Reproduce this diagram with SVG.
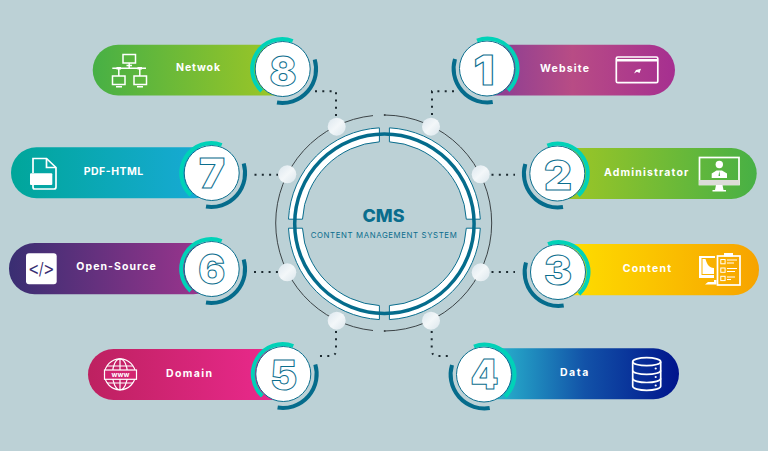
<svg xmlns="http://www.w3.org/2000/svg" width="768" height="451" viewBox="0 0 768 451">
<style>
.lbl{font-family:"Inter","Liberation Sans",sans-serif;font-weight:700;font-size:10.5px;fill:#fff;text-anchor:start}
.dig{font-family:"Inter","Liberation Sans",sans-serif;font-weight:900;font-size:41px;fill:#fff;stroke:#0b6e8e;stroke-width:1;text-anchor:middle}
.ic{fill:none;stroke:#fff;stroke-width:1.7}
.icf{fill:#fff;stroke:none}
.dots{fill:none;stroke:#1c2a30;stroke-width:2;stroke-dasharray:2 5.3}
</style>
<defs>
<linearGradient id="g1"><stop offset="0" stop-color="#7d3a98"/><stop offset=".5" stop-color="#b84c85"/><stop offset="1" stop-color="#a62f90"/></linearGradient>
<linearGradient id="g2"><stop offset="0" stop-color="#a8c922"/><stop offset="1" stop-color="#47b045"/></linearGradient>
<linearGradient id="g3"><stop offset="0" stop-color="#ffe600"/><stop offset="1" stop-color="#f7a300"/></linearGradient>
<linearGradient id="g4"><stop offset="0" stop-color="#2fd0d8"/><stop offset=".55" stop-color="#1252a8"/><stop offset="1" stop-color="#00148c"/></linearGradient>
<linearGradient id="g5"><stop offset="0" stop-color="#bd2160"/><stop offset="1" stop-color="#f02a92"/></linearGradient>
<linearGradient id="g6"><stop offset="0" stop-color="#392e72"/><stop offset="1" stop-color="#a3358f"/></linearGradient>
<linearGradient id="g7"><stop offset="0" stop-color="#00a69a"/><stop offset="1" stop-color="#1aaadb"/></linearGradient>
<linearGradient id="g8"><stop offset="0" stop-color="#47b045"/><stop offset="1" stop-color="#a8c922"/></linearGradient>
<linearGradient id="ball" x1="0" y1="0" x2="1" y2="1"><stop offset="0" stop-color="#dce7ee"/><stop offset=".5" stop-color="#f3f7f9"/><stop offset="1" stop-color="#dbe6ec"/></linearGradient>
<g id="bubble">
<circle cx="-1" cy="0" r="27.500" fill="#fff" stroke="#0b6e8e" stroke-width="1"/>
<path d="M-11 -28 A30 30 0 0 1 20 22" fill="none" stroke="#00d2b8" stroke-width="4"/>
<path d="M-33 -9.500 A33.800 33.800 0 0 0 4.700 33.500" fill="none" stroke="#056c8c" stroke-width="4"/>
</g>
<path id="quad" d="M5 -95.870A96 96 0 0 1 95.900 -4.500H81.900A82 82 0 0 0 5 -81.850Z" fill="#fff" stroke="#0b6e8e" stroke-width="1"/>
<circle id="dot" r="9" fill="url(#ball)"/>
</defs>
<rect width="768" height="451" fill="#bcd1d6"/>
<g id="connectors">
<path class="dots" d="M454 91.300H432V117"/>
<path class="dots" d="M491.500 174.700H515"/>
<path class="dots" d="M491.500 272H515"/>
<path class="dots" d="M431.700 331V350Q431.700 356 438 356H453"/>
<path class="dots" d="M315 91.300H336V117"/>
<path class="dots" d="M254.500 174.700H278"/>
<path class="dots" d="M254 272H278"/>
<path class="dots" d="M336 331V350Q336 356 330 356H316"/>
</g>
<g id="hub">
<path d="M373 115.600A108 108 0 0 0 275.700 223A108 108 0 0 0 373 330.500M384.700 115A108 108 0 0 1 491.700 223A108 108 0 0 1 384.700 331" fill="none" stroke="#3c4447" stroke-width="1"/>
<circle cx="384.700" cy="115" r="1" fill="#3c4447"/><circle cx="384.700" cy="331" r="1" fill="#3c4447"/>
<g transform="translate(384.400 223.700)">
<use href="#quad"/>
<use href="#quad" transform="scale(-1 1)"/>
<use href="#quad" transform="scale(1 -1)"/>
<use href="#quad" transform="scale(-1 -1)"/>
<circle r="89.700" fill="none" stroke="#056c8c" stroke-width="3.500"/>
</g>
<use href="#dot" x="336.700" y="126.700"/><use href="#dot" x="431" y="126.700"/>
<use href="#dot" x="287.300" y="174.300"/><use href="#dot" x="480.700" y="174.300"/>
<use href="#dot" x="287.300" y="272.300"/><use href="#dot" x="480.700" y="272.300"/>
<use href="#dot" x="336.700" y="320.700"/><use href="#dot" x="431" y="320.700"/>
<text x="383.500" y="222" font-family="Inter,'Liberation Sans',sans-serif" font-weight="800" font-size="17.500" fill="#0a6d8d" text-anchor="middle" textLength="42" lengthAdjust="spacingAndGlyphs">CMS</text>
<text x="310.700" y="238.300" font-family="Inter,'Liberation Sans',sans-serif" font-weight="400" font-size="7.800" fill="#0a6d8d" textLength="146">CONTENT MANAGEMENT SYSTEM</text>
</g>
<g id="node-1">
<rect x="470" y="44.700" width="205" height="50.800" rx="25.400" fill="url(#g1)"/>
<use href="#bubble" x="488" y="68.500"/>
<text class="dig" x="484" y="85" textLength="21" lengthAdjust="spacingAndGlyphs">1</text>
<text class="lbl" x="540" y="71.700" textLength="49">Website</text>
<rect class="ic" x="616.300" y="57" width="41.500" height="25.700" rx="1.500"/>
<path d="M616.300 60.300H657.800" stroke="#fff" stroke-width="2.500" fill="none"/>
<path class="icf" d="M634 73.500L636 70L641 68.800L639.500 73L637 71.800Z"/>
</g>
<g id="node-2">
<rect x="540" y="148" width="216.700" height="51" rx="25.500" fill="url(#g2)"/>
<use href="#bubble" x="558.300" y="173.500"/>
<text class="dig" x="558" y="190" textLength="28" lengthAdjust="spacingAndGlyphs">2</text>
<text class="lbl" x="604" y="175.700" textLength="84.300">Administrator</text>
<rect class="ic" x="699.500" y="157.500" width="39.500" height="27"/>
<rect x="699" y="180" width="40.500" height="5" fill="#dcdcd8"/>
<path d="M716 185H722.500L723.500 190H726V191.500H712.500V190H715Z" fill="#fff"/>
<circle class="icf" cx="719.300" cy="164.500" r="3.700"/>
<path class="icf" d="M711.700 178V173.500L716.500 170.500H722L727 173.500V178Z"/>
<path d="M719.300 171L718.500 176H720.100Z" fill="#4ab045"/>
</g>
<g id="node-3">
<rect x="540" y="244" width="219" height="51.300" rx="25.600" fill="url(#g3)"/>
<use href="#bubble" x="559" y="272"/>
<text class="dig" x="558" y="285" textLength="28" lengthAdjust="spacingAndGlyphs">3</text>
<text class="lbl" x="622.700" y="271.700" textLength="48.300">Content</text>
<path class="icf" d="M699 256H715V258H701.500V275H714V278H699Z"/>
<path class="icf" d="M702.500 259V274H714V268C708 268 706.500 262 705.500 259Z"/>
<path class="icf" d="M708 282H714V280H716.500V284.500H705Z"/>
<rect class="ic" x="717.500" y="256" width="22.500" height="29"/>
<rect class="icf" x="724" y="253" width="9" height="3.500"/>
<g fill="none" stroke="#fff" stroke-width="1"><rect x="720.800" y="259.500" width="4.300" height="4.300"/><rect x="720.800" y="268" width="4.300" height="4.300"/><rect x="720.800" y="276.300" width="4.300" height="4.300"/>
<path d="M727 260H737M727 263H734M727 268.500H737M727 271.500H735M727 277H735M727 279.500H731"/></g>
</g>
<g id="node-4">
<rect x="470" y="348.300" width="209" height="51" rx="25.500" fill="url(#g4)"/>
<use href="#bubble" x="485" y="374.500"/>
<text class="dig" x="484.500" y="389" textLength="28" lengthAdjust="spacingAndGlyphs">4</text>
<text class="lbl" x="560" y="375.700" textLength="28.300">Data</text>
<g class="ic"><ellipse cx="646.700" cy="361.700" rx="14" ry="4"/><path d="M632.700 361.700V386.300C632.700 388.600 639 390.300 646.700 390.300S660.700 388.600 660.700 386.300V361.700"/><path d="M632.700 370.400C632.700 372.700 639 374.400 646.700 374.400S660.700 372.700 660.700 370.400"/><path d="M632.700 378.500C632.700 380.800 639 382.500 646.700 382.500S660.700 380.800 660.700 378.500"/></g>
<circle class="icf" cx="655.700" cy="368.500" r="1.100"/><circle class="icf" cx="655.700" cy="377" r="1.100"/><circle class="icf" cx="655.700" cy="385.500" r="1.100"/>
</g>
<g id="node-5">
<rect x="88" y="349" width="210" height="51" rx="25.500" fill="url(#g5)"/>
<use href="#bubble" transform="translate(282.300 374) scale(-1 1)"/>
<text class="dig" x="283.700" y="390" textLength="27" lengthAdjust="spacingAndGlyphs">5</text>
<text class="lbl" x="166" y="377.300" textLength="46">Domain</text>
<g fill="none" stroke="#fff" stroke-width="1.200"><circle cx="120" cy="374.300" r="15.500"/><ellipse cx="120" cy="374.300" rx="7.500" ry="15.500"/><path d="M120 358.800V389.800M107 366H133M107 383H133"/></g>
<rect x="104.500" y="370" width="32" height="9.300" fill="#d2246f" stroke="#fff" stroke-width="1.200"/>
<text x="120.500" y="377.300" font-family="Inter,'Liberation Sans',sans-serif" font-weight="700" font-size="7px" fill="#fff" text-anchor="middle">www</text>
</g>
<g id="node-6">
<rect x="9" y="243" width="210" height="51.300" rx="25.600" fill="url(#g6)"/>
<use href="#bubble" transform="translate(210.700 269) scale(-1 1)"/>
<text class="dig" x="211.700" y="284" textLength="27" lengthAdjust="spacingAndGlyphs">6</text>
<text class="lbl" x="76.300" y="270.300" textLength="79.400">Open-Source</text>
<rect x="26" y="253.300" width="30.700" height="31" rx="3" fill="#fff"/>
<text x="41.300" y="275" font-family="'DejaVu Sans',sans-serif" font-size="17px" fill="#3a2f72" text-anchor="middle" textLength="26" lengthAdjust="spacingAndGlyphs">&lt;/&gt;</text>
</g>
<g id="node-7">
<rect x="11" y="147.300" width="210" height="51" rx="25.500" fill="url(#g7)"/>
<use href="#bubble" transform="translate(210.700 173) scale(-1 1)"/>
<text class="dig" x="212" y="188" textLength="26" lengthAdjust="spacingAndGlyphs">7</text>
<text class="lbl" x="83.700" y="174.700" textLength="59.600">PDF-HTML</text>
<path class="ic" d="M33 173V158.500H46.500L56 167.500V187C56 188.500 55 189 54 189H34.500C33.500 189 33 188.500 33 187V185" stroke-width="1.900"/>
<path class="ic" d="M46.500 158.500V167.500H56"/>
<rect class="icf" x="30" y="173.300" width="22.300" height="11.700" rx="1"/>
</g>
<g id="node-8">
<rect x="92.700" y="44.700" width="210" height="50.800" rx="25.400" fill="url(#g8)"/>
<use href="#bubble" transform="translate(281.700 69) scale(-1 1)"/>
<text class="dig" x="283" y="86" textLength="27" lengthAdjust="spacingAndGlyphs">8</text>
<text class="lbl" x="176" y="71.300" textLength="44">Netwok</text>
<g fill="none" stroke="#fff" stroke-width="1.500"><rect x="123" y="54.500" width="12.500" height="8.500"/><rect x="112.500" y="76" width="12.500" height="8.500"/><rect x="134" y="76" width="12.500" height="8.500"/>
<path d="M129.200 63V68.300M112.300 68.300H146M118.800 68.300V76M139.800 68.300V76M126.500 65.500H132M116 86.700H122M137 86.700H143"/></g>
<rect class="icf" x="116.500" y="67" width="4.500" height="2.500"/><rect class="icf" x="137.500" y="67" width="4.500" height="2.500"/>
</g>
</svg>
